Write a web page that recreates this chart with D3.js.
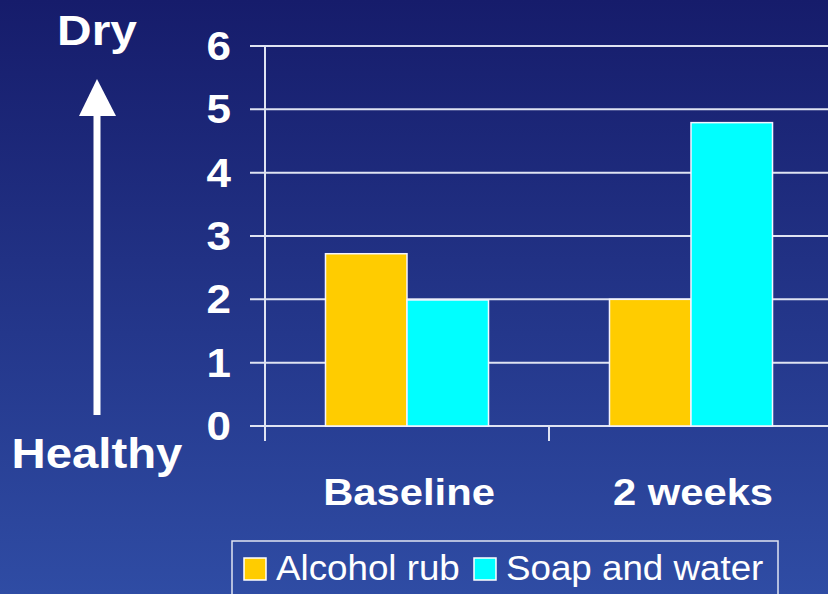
<!DOCTYPE html>
<html>
<head>
<meta charset="utf-8">
<script src="https://cdn.jsdelivr.net/npm/d3@7"></script>
<style>
  html, body { margin: 0; padding: 0; background: #1c2675; }
  text { font-family: Arial, "Liberation Sans", sans-serif; fill: #fff; }
</style>
</head>
<body>
<div class="display"></div>
<script>
// Skin condition score, alcohol rub vs soap and water

const categories = ['Baseline', '2 weeks'];
const series = ['Alcohol rub', 'Soap and water'];
const alcoholValues = [2.72, 2.0];
const soapValues = [1.99, 4.79];
const yTicks = [0, 1, 2, 3, 4, 5, 6];

const WIDTH = 828;
const HEIGHT = 594;
const COLORS = ['#ffcc00', '#00ffff'];
const GRID_COLOR = '#dfe3f2';

const svg = d3.select('.display')
  .append('svg')
  .attr('width', WIDTH)
  .attr('height', HEIGHT);

// background gradient, dark navy at top to lighter blue at bottom
const defs = svg.append('defs');
const grad = defs.append('linearGradient')
  .attr('id', 'bg')
  .attr('x1', 0).attr('y1', 0)
  .attr('x2', 0).attr('y2', 1);
grad.append('stop').attr('offset', '0%').attr('stop-color', '#161c6b');
grad.append('stop').attr('offset', '100%').attr('stop-color', '#2f4ca4');

svg.append('rect')
  .attr('width', WIDTH)
  .attr('height', HEIGHT)
  .attr('fill', 'url(#bg)');

// scales
const y = d3.scaleLinear()
  .domain([0, 6])
  .range([426, 46]);

const x0 = d3.scaleBand()
  .domain(categories)
  .range([265, 833]);

const x1 = d3.scaleBand()
  .domain(series)
  .range([0, x0.bandwidth()])
  .paddingOuter(0.742);

// gridlines + left ticks
svg.append('g')
  .selectAll('line')
  .data(yTicks)
  .enter()
  .append('line')
  .attr('x1', 250)
  .attr('x2', WIDTH)
  .attr('y1', d => y(d))
  .attr('y2', d => y(d))
  .attr('stroke', GRID_COLOR)
  .attr('stroke-width', 2);

// y axis line
svg.append('line')
  .attr('x1', 265).attr('x2', 265)
  .attr('y1', y(6)).attr('y2', y(0))
  .attr('stroke', GRID_COLOR)
  .attr('stroke-width', 2);

// x category ticks
svg.append('g')
  .selectAll('line')
  .data(categories)
  .enter()
  .append('line')
  .attr('x1', d => x0(d))
  .attr('x2', d => x0(d))
  .attr('y1', y(0))
  .attr('y2', y(0) + 15)
  .attr('stroke', GRID_COLOR)
  .attr('stroke-width', 2);

// y tick labels
svg.append('g')
  .selectAll('text')
  .data(yTicks)
  .enter()
  .append('text')
  .attr('transform', d => `translate(231, ${y(d) + 14}) scale(1.1, 1)`)
  .attr('text-anchor', 'end')
  .attr('font-size', 40)
  .attr('font-weight', 'bold')
  .text(d => d);

// bars
const rows = categories.map((c, i) => ({ category: c, values: [alcoholValues[i], soapValues[i]] }));

const groups = svg.append('g')
  .selectAll('g')
  .data(rows)
  .enter()
  .append('g')
  .attr('transform', d => `translate(${x0(d.category)}, 0)`);

groups.selectAll('rect')
  .data(d => d.values.map((v, j) => ({ key: series[j], value: v, idx: j })))
  .enter()
  .append('rect')
  .attr('x', d => x1(d.key))
  .attr('y', d => y(d.value))
  .attr('width', x1.bandwidth())
  .attr('height', d => y(0) - y(d.value))
  .attr('fill', d => COLORS[d.idx])
  .attr('stroke', '#f4f4ff')
  .attr('stroke-width', 1.5);

// category labels
svg.append('g')
  .selectAll('text')
  .data(categories)
  .enter()
  .append('text')
  .attr('transform', d => `translate(${x0(d) + x0.bandwidth() / 2 + 2}, 505) scale(1.16, 1)`)
  .attr('text-anchor', 'middle')
  .attr('font-size', 36)
  .attr('font-weight', 'bold')
  .text(d => d);

// Dry / Healthy arrow
svg.append('line')
  .attr('x1', 97).attr('x2', 97)
  .attr('y1', 114).attr('y2', 415)
  .attr('stroke', '#fff')
  .attr('stroke-width', 7);

svg.append('path')
  .attr('d', 'M97,79 L116,116 L79,116 Z')
  .attr('fill', '#fff');

svg.append('text')
  .attr('transform', 'translate(97, 45) scale(1.14, 1)')
  .attr('text-anchor', 'middle')
  .attr('font-size', 42)
  .attr('font-weight', 'bold')
  .text('Dry');

svg.append('text')
  .attr('transform', 'translate(97, 468) scale(1.1, 1)')
  .attr('text-anchor', 'middle')
  .attr('font-size', 43)
  .attr('font-weight', 'bold')
  .text('Healthy');

// legend
const legend = svg.append('g');

legend.append('rect')
  .attr('x', 232)
  .attr('y', 541)
  .attr('width', 546)
  .attr('height', 70)
  .attr('fill', 'none')
  .attr('stroke', GRID_COLOR)
  .attr('stroke-width', 1.5);

const legendX = [244, 474];
const items = legend.selectAll('.item')
  .data(series)
  .enter()
  .append('g')
  .attr('class', 'item')
  .attr('transform', (d, i) => `translate(${legendX[i]}, 558)`);

items.append('rect')
  .attr('width', 22)
  .attr('height', 22)
  .attr('fill', (d, i) => COLORS[i])
  .attr('stroke', '#fff')
  .attr('stroke-width', 1.5);

items.append('text')
  .attr('transform', 'translate(32, 22) scale(1.05, 1)')
  .attr('font-size', 35)
  .text(d => d);
</script>
</body>
</html>
